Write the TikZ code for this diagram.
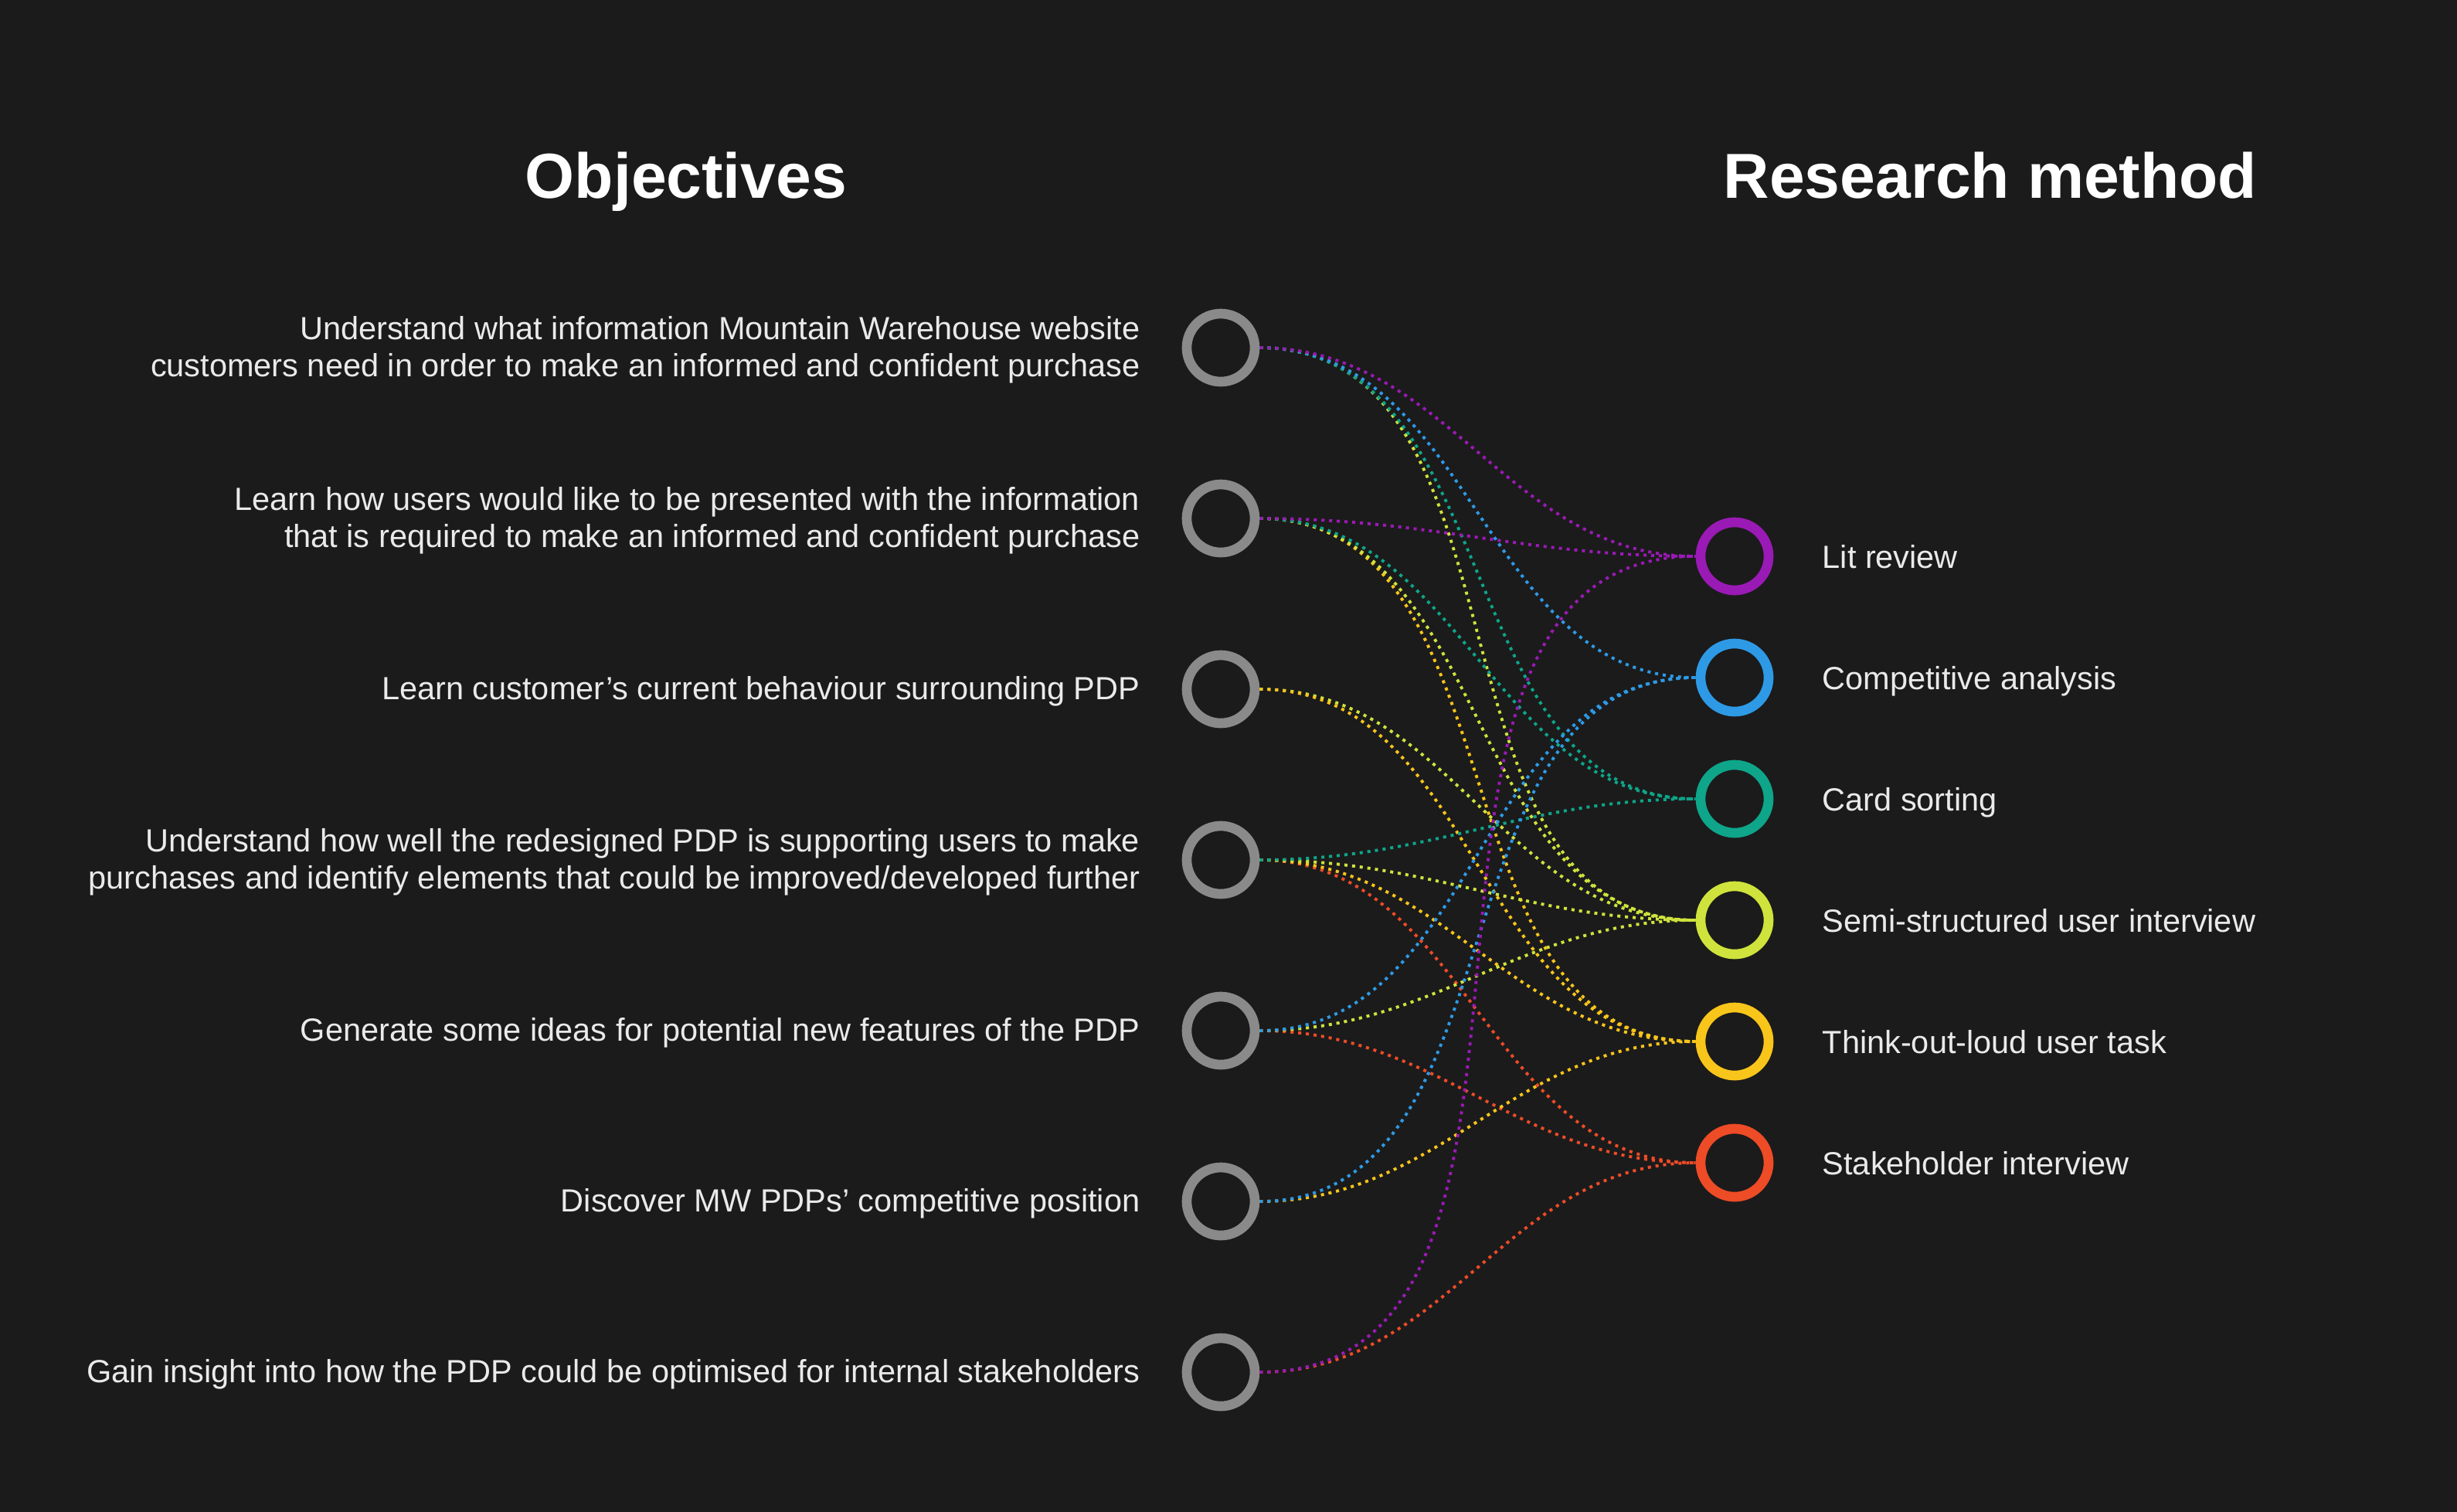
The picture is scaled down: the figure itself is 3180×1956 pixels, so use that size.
\documentclass[tikz,border=0pt]{standalone}
\usepackage{fontspec}
\setmainfont{Liberation Sans}
\definecolor{bg}{HTML}{1B1B1B}
\definecolor{ringgray}{HTML}{8A8A8A}
\definecolor{txt}{HTML}{EAEAEA}
\definecolor{cpurple}{HTML}{9A1AB5}
\definecolor{cblue}{HTML}{2E9AE6}
\definecolor{cteal}{HTML}{0EA58A}
\definecolor{clime}{HTML}{CFE33C}
\definecolor{cgold}{HTML}{F8C51A}
\definecolor{cred}{HTML}{EE4B27}
\begin{document}
\begin{tikzpicture}[x=0.01cm,y=-0.01cm,
  objring/.style={circle, draw=ringgray, line width=3.6pt, minimum size=0.88cm, inner sep=0pt},
  methring/.style={circle, draw=#1, line width=3.6pt, minimum size=0.88cm, inner sep=0pt},
  link/.style={draw=#1, line width=1.1pt, dash pattern=on 1.14pt off 1.7pt},
  objtext/.style={anchor=east, align=right, text=txt, inner sep=0pt, font=\fontsize{11.8}{13.6}\selectfont},
  methtext/.style={anchor=base west, text=txt, inner sep=0pt, font=\fontsize{11.8}{13.6}\selectfont},
  title/.style={anchor=base, text=white, inner sep=0pt, font=\fontsize{23.4}{28}\selectfont\bfseries}]
\useasboundingbox (0,0) rectangle (3180,1956);
\fill[bg] (-20,-20) rectangle (3200,1976);

\node[title] (t1) at (888,256) {Objectives};
\node[title] (t2) at (2576,256) {Research method};

% objectives
\node[objring] (o1) at (1580,450) {};
\node[objring] (o2) at (1580,671) {};
\node[objring] (o3) at (1580,892) {};
\node[objring] (o4) at (1580,1113) {};
\node[objring] (o5) at (1580,1334) {};
\node[objring] (o6) at (1580,1555) {};
\node[objring] (o7) at (1580,1776) {};

\node[objtext] (l1) at (1476,453) {Understand what information Mountain Warehouse website\\customers need in order to make an informed and confident purchase};
\node[objtext] (l2) at (1476,674) {Learn how users would like to be presented with the information\\that is required to make an informed and confident purchase};
\node[objtext] (l3) at (1476,895) {Learn customer’s current behaviour surrounding PDP};
\node[objtext] (l4) at (1476,1116) {Understand how well the redesigned PDP is supporting users to make\\purchases and identify elements that could be improved/developed further};
\node[objtext] (l5) at (1476,1337) {Generate some ideas for potential new features of the PDP};
\node[objtext] (l6) at (1476,1558) {Discover MW PDPs’ competitive position};
\node[objtext] (l7) at (1476,1779) {Gain insight into how the PDP could be optimised for internal stakeholders};

% methods
\node[methring=cpurple] (m1) at (2245,720) {};
\node[methring=cblue]   (m2) at (2245,877) {};
\node[methring=cteal]   (m3) at (2245,1034) {};
\node[methring=clime]   (m4) at (2245,1191) {};
\node[methring=cgold]   (m5) at (2245,1348) {};
\node[methring=cred]    (m6) at (2245,1505) {};

\node[methtext] (r1) at (2358,735) {Lit review};
\node[methtext] (r2) at (2358,892) {Competitive analysis};
\node[methtext] (r3) at (2358,1049) {Card sorting};
\node[methtext] (r4) at (2358,1206) {Semi-structured user interview};
\node[methtext] (r5) at (2358,1363) {Think-out-loud user task};
\node[methtext] (r6) at (2358,1520) {Stakeholder interview};

% links
\draw[link=clime]   (o1.east) to[out=0,in=180] (m4.west);
\draw[link=cteal]   (o1.east) to[out=0,in=180] (m3.west);
\draw[link=cblue]   (o1.east) to[out=0,in=180] (m2.west);
\draw[link=cpurple] (o1.east) to[out=0,in=180] (m1.west);

\draw[link=cgold]   (o2.east) to[out=0,in=180] (m5.west);
\draw[link=clime]   (o2.east) to[out=0,in=180] (m4.west);
\draw[link=cteal]   (o2.east) to[out=0,in=180] (m3.west);
\draw[link=cpurple] (o2.east) to[out=0,in=180] (m1.west);

\draw[link=clime]   (o3.east) to[out=0,in=180] (m4.west);
\draw[link=cgold]   (o3.east) to[out=0,in=180] (m5.west);

\draw[link=cred]    (o4.east) to[out=0,in=180] (m6.west);
\draw[link=cgold]   (o4.east) to[out=0,in=180] (m5.west);
\draw[link=clime]   (o4.east) to[out=0,in=180] (m4.west);
\draw[link=cteal]   (o4.east) to[out=0,in=180] (m3.west);

\draw[link=cred]    (o5.east) to[out=0,in=180] (m6.west);
\draw[link=clime]   (o5.east) to[out=0,in=180] (m4.west);
\draw[link=cblue]   (o5.east) to[out=0,in=180] (m2.west);

\draw[link=cgold]   (o6.east) to[out=0,in=180] (m5.west);
\draw[link=cblue]   (o6.east) to[out=0,in=180] (m2.west);

\draw[link=cred]    (o7.east) to[out=0,in=180] (m6.west);
\draw[link=cpurple] (o7.east) to[out=0,in=180] (m1.west);
\end{tikzpicture}
\end{document}
